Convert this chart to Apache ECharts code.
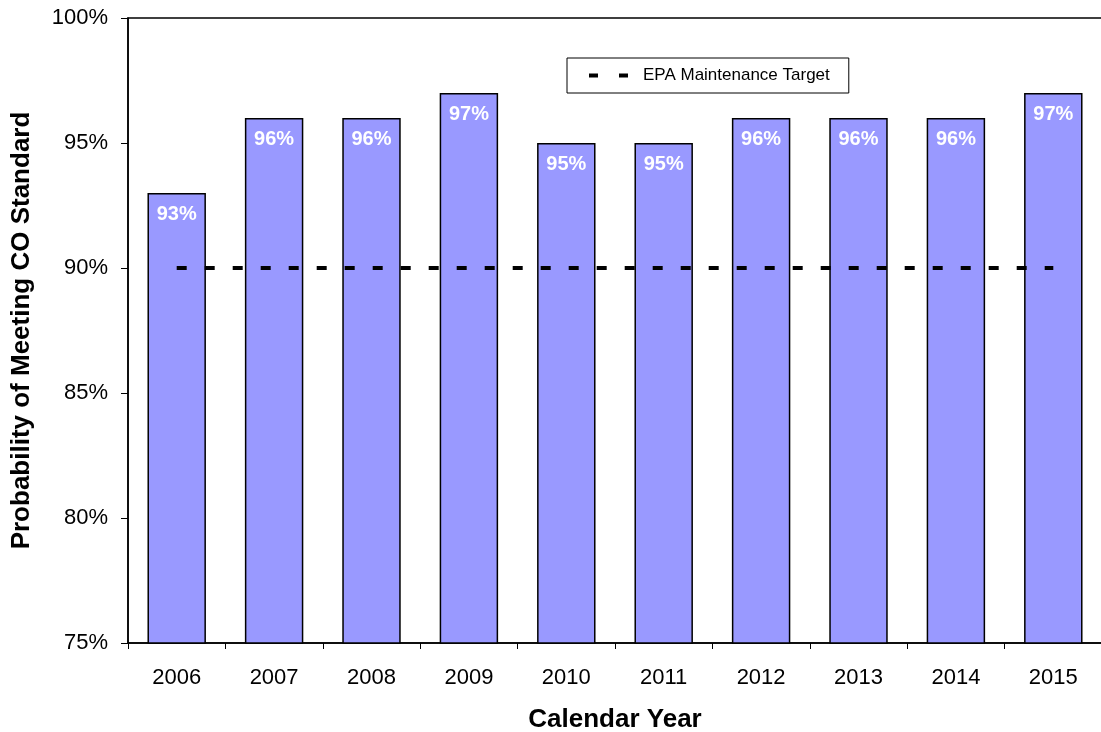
<!DOCTYPE html>
<html>
<head>
<meta charset="utf-8">
<script src="https://cdn.jsdelivr.net/npm/echarts@6/dist/echarts.min.js"></script>
<style>
  html, body { margin: 0; padding: 0; background: #fff; }
  #chart { width: 1101px; height: 732px; }
</style>
</head>
<body>
<div id="chart"></div>
<script>
// Calendar years and probability of meeting the CO standard (percent)
const years = ['2006', '2007', '2008', '2009', '2010', '2011', '2012', '2013', '2014', '2015'];
const probability = [93, 96, 96, 97, 95, 95, 96, 96, 96, 97];
const epaTarget = [90, 90, 90, 90, 90, 90, 90, 90, 90, 90];

const chart = echarts.init(document.getElementById('chart'));
const font = 'Liberation Sans, Arial, sans-serif';

chart.setOption({
  animation: false,
  textStyle: { fontFamily: font },
  grid: {
    left: 128, right: -1, top: 18, bottom: 89,
    outerBoundsMode: 'none',
    containLabel: false,
    show: true, borderColor: '#000', borderWidth: 1.5, backgroundColor: '#fff'
  },
  legend: {
    data: ['EPA Maintenance Target'],
    left: 567, top: 58,
    padding: [9, 19, 9, 22],
    backgroundColor: '#fff',
    borderColor: '#000', borderWidth: 1,
    itemWidth: 39, itemHeight: 4,
    icon: 'path://M0,0H9V4H0Z M30,0H39V4H30Z',
    textStyle: { fontSize: 17, color: '#000', fontFamily: font, padding: [0, 0, 0, 10] }
  },
  xAxis: {
    type: 'category',
    data: years,
    name: 'Calendar Year',
    nameLocation: 'middle',
    nameGap: 64,
    nameTextStyle: { fontSize: 26, fontWeight: 'bold', color: '#000', fontFamily: font },
    axisLine: { lineStyle: { color: '#000', width: 1.5 } },
    axisTick: { show: true, length: 6, lineStyle: { color: '#000' } },
    axisLabel: { fontSize: 22, color: '#000', margin: 24, fontFamily: font }
  },
  yAxis: {
    type: 'value',
    min: 75, max: 100, interval: 5,
    name: 'Probability of Meeting CO Standard',
    nameLocation: 'middle',
    nameGap: 93,
    nameTextStyle: { fontSize: 26, fontWeight: 'bold', color: '#000', fontFamily: font },
    axisLine: { show: true, lineStyle: { color: '#000', width: 1.5 } },
    axisTick: { show: true, length: 7, lineStyle: { color: '#000' } },
    splitLine: { show: false },
    axisLabel: { fontSize: 22, color: '#000', margin: 20, formatter: '{value}%', fontFamily: font }
  },
  series: [
    {
      name: 'Probability',
      type: 'bar',
      data: probability,
      barWidth: '60%',
      itemStyle: { color: '#9999FF', borderColor: '#000', borderWidth: 1.5 },
      label: {
        show: true, position: 'insideTop', distance: 11,
        formatter: '{c}%', color: '#fff', fontWeight: 'bold', fontSize: 20, fontFamily: font
      },
      z: 2
    },
    {
      name: 'EPA Maintenance Target',
      type: 'line',
      data: epaTarget,
      symbol: 'none',
      lineStyle: { color: '#000', width: 4, type: [10, 18] },
      itemStyle: { color: '#000' },
      z: 3
    }
  ]
});
</script>
</body>
</html>
